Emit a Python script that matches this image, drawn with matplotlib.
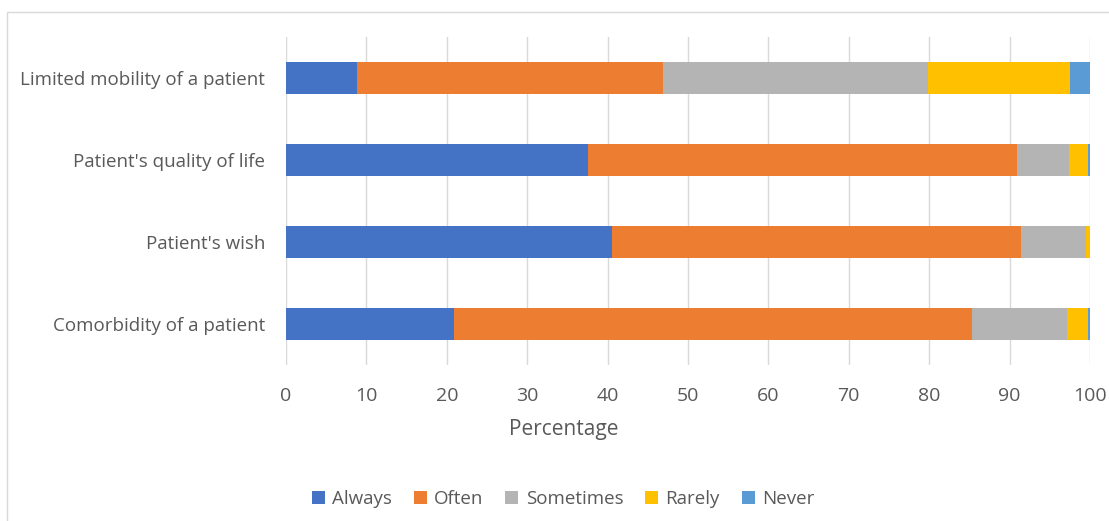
import numpy as np
import matplotlib.pyplot as plt
from matplotlib.patches import Rectangle

categories = ["Comorbidity of a patient", "Patient's wish",
              "Patient's quality of life", "Limited mobility of a patient"]
series = ["Always", "Often", "Sometimes", "Rarely", "Never"]
always = [20.9, 40.6, 37.6, 8.8]
often = [64.4, 50.8, 53.3, 38.1]
sometimes = [11.8, 8.1, 6.5, 32.9]
rarely = [2.65, 0.5, 2.3, 17.7]
never = [0.25, 0.0, 0.3, 2.5]
colors = ["#4472c4", "#ed7d31", "#b4b4b4", "#ffc000", "#5b9bd5"]

plt.rcParams['font.family'] = ['Open Sans', 'DejaVu Sans']
txt = '#595959'

fig = plt.figure(figsize=(11.09, 5.21), dpi=100)
ax = fig.add_axes([286 / 1109, 1 - 365 / 521, 804 / 1109, 328 / 521])

fig.patches.append(Rectangle((7 / 1109, -0.1), 1.2, 1 - 12 / 521 + 0.1,
                             transform=fig.transFigure, fill=False,
                             edgecolor='#d9d9d9', linewidth=1))

y = np.arange(len(categories))
left = np.zeros(len(categories))
for name, vals, c in zip(series, [always, often, sometimes, rarely, never], colors):
    ax.barh(y, vals, left=left, height=0.4, color=c, label=name, zorder=3)
    left += np.array(vals)

ax.set_xlim(0, 100)
ax.set_ylim(-0.5, 3.5)
ax.set_xticks(range(0, 101, 10))
ax.set_yticks(y)
ax.set_yticklabels(categories)
ax.grid(axis='x', color='#d9d9d9', linewidth=1, zorder=0)
for s in ax.spines.values():
    s.set_visible(False)
ax.tick_params(length=0, labelsize=13.5, colors=txt)
ax.tick_params(axis='x', labelsize=14, pad=16)
ax.tick_params(axis='y', pad=15)
ax.set_xlabel("Percentage", fontsize=15, color=txt)
ax.xaxis.set_label_coords(0.345, -0.165)

ax.legend(loc='center', bbox_to_anchor=(563 / 1109, 1 - 499 / 521),
          bbox_transform=fig.transFigure, ncol=5, frameon=False,
          fontsize=13.5, labelcolor=txt, handlelength=0.7, handleheight=0.7,
          handletextpad=0.4, columnspacing=1.15)

fig.savefig("out.png", dpi=100)
